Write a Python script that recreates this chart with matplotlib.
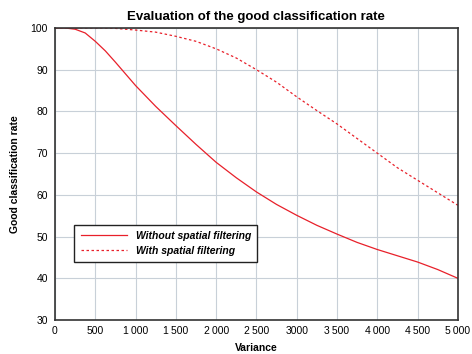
import matplotlib
matplotlib.use("Agg")
import matplotlib.pyplot as plt

variance = [0, 125, 250, 375, 500, 625, 750, 875, 1000, 1250, 1500, 1750, 2000,
            2250, 2500, 2750, 3000, 3250, 3500, 3750, 4000, 4250, 4500, 4750, 5000]
without_filter = [100, 100, 99.7, 98.8, 96.8, 94.5, 91.8, 89, 86.2, 81.2, 76.6,
                  72.1, 67.8, 64.1, 60.7, 57.7, 55.1, 52.7, 50.6, 48.6, 46.9,
                  45.4, 43.9, 42.1, 40]
with_filter = [100, 100, 100, 100, 100, 100, 99.9, 99.7, 99.5, 99, 98, 96.8, 95,
               92.8, 90, 87, 83.5, 80.2, 77, 73.5, 70, 66.5, 63.5, 60.5, 57.5]
xtick_vals = [0, 500, 1000, 1500, 2000, 2500, 3000, 3500, 4000, 4500, 5000]
xtick_labels = ["0", "500", "1\u2009000", "1\u2009500", "2\u2009000", "2\u2009500",
                "3000", "3\u2009500", "4\u2009000", "4\u2009500", "5\u2009000"]

plt.rcParams['font.family'] = ['Liberation Sans', 'DejaVu Sans']

fig = plt.figure(figsize=(4.72, 3.54), dpi=100)
ax = fig.add_axes([0.1165, 0.096, 0.8535, 0.825])

red = '#e8202a'
ax.plot(variance, without_filter, color=red, lw=0.9, label='Without spatial filtering')
ax.plot(variance, with_filter, color=red, lw=0.9, linestyle=(0, (2, 2)),
        label='With spatial filtering')

ax.set_xlim(0, 5000)
ax.set_ylim(30, 100)
ax.set_xticks(xtick_vals)
ax.set_xticklabels(xtick_labels)
ax.set_yticks(range(30, 101, 10))
ax.tick_params(length=0, labelsize=7.5, pad=5)
ax.tick_params(axis='x', pad=4)
ax.grid(True, color='#c8d0d8', lw=0.8)
ax.set_axisbelow(True)
for s in ax.spines.values():
    s.set_color('#333333')
    s.set_linewidth(1.2)

ax.set_title('Evaluation of the good classification rate', fontsize=9.5,
             fontweight='bold', pad=6)
ax.set_xlabel('Variance', fontsize=7.5, fontweight='bold', labelpad=5)
ax.set_ylabel('Good classification rate', fontsize=7.5, fontweight='bold', labelpad=8)

leg = ax.legend(loc='lower left', bbox_to_anchor=(0.035, 0.18), fancybox=False,
                framealpha=1, edgecolor='#222222',
                prop={'size': 7.5, 'weight': 'bold', 'style': 'italic'},
                handlelength=4.5, borderpad=0.6, labelspacing=0.5)
leg.get_frame().set_linewidth(1.0)

fig.savefig('out.png', dpi=100)
